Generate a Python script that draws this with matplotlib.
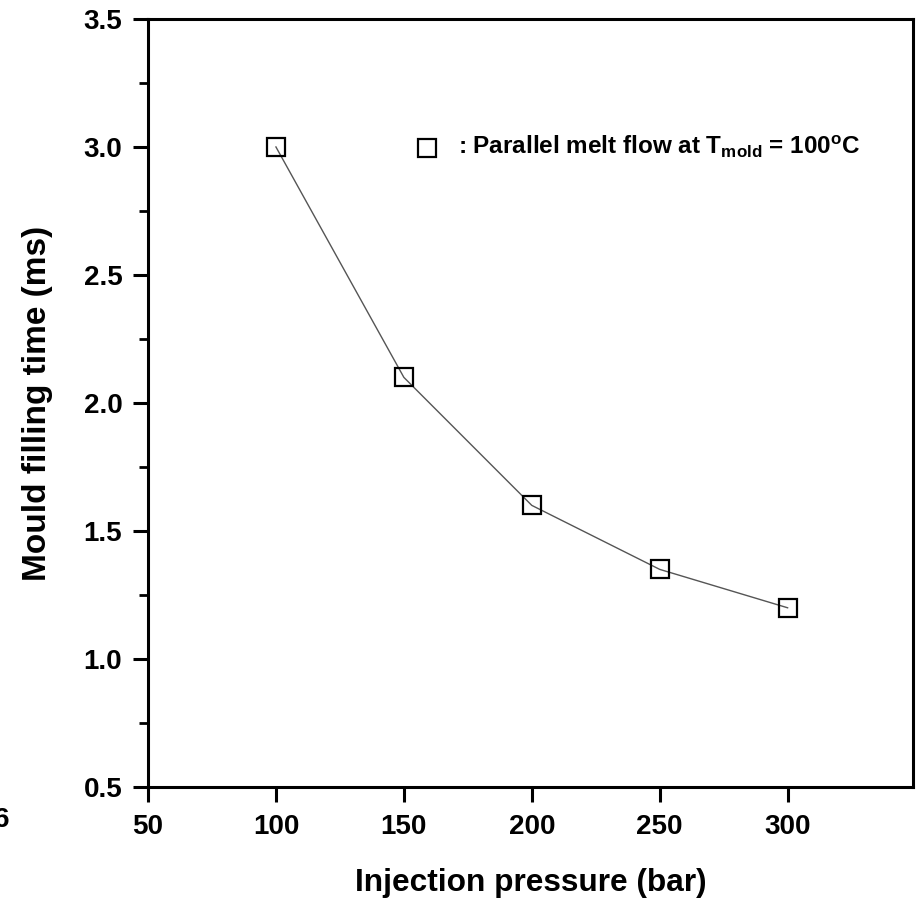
import matplotlib
matplotlib.use("Agg")
from matplotlib import pyplot as plt
from matplotlib.ticker import MultipleLocator

# data
pressure = [100, 150, 200, 250, 300]
fill_time = [3.0, 2.1, 1.6, 1.35, 1.2]
x_ticks = [50, 100, 150, 200, 250, 300]
y_ticks = [0.5, 1.0, 1.5, 2.0, 2.5, 3.0, 3.5]

plt.rcParams['font.family'] = ['Liberation Sans', 'DejaVu Sans']
plt.rcParams['font.weight'] = 'bold'
plt.rcParams['mathtext.fontset'] = 'custom'
plt.rcParams['mathtext.rm'] = 'Liberation Sans:bold'
plt.rcParams['mathtext.it'] = 'Liberation Sans:bold'
plt.rcParams['mathtext.bf'] = 'Liberation Sans:bold'


def main():
    fig = plt.figure(figsize=(9.16, 9.02), dpi=100)
    ax = fig.add_axes([0.1616, 0.1275, 0.8351, 0.8515])

    ax.plot(pressure, fill_time, color='#555555', lw=1.0, marker='s', ms=13,
            mfc='none', mec='black', mew=1.6, zorder=3)

    ax.set_xlim(50, 349)
    ax.set_ylim(0.5, 3.5)
    ax.set_xticks(x_ticks)
    ax.set_yticks(y_ticks)
    ax.yaxis.set_minor_locator(MultipleLocator(0.25))

    for s in ax.spines.values():
        s.set_linewidth(2.2)
    ax.tick_params(axis='both', which='major', direction='out', length=10.5, width=2.2,
                   labelsize=20)
    ax.tick_params(axis='y', which='major', pad=8)
    ax.tick_params(axis='x', which='major', pad=9)
    ax.tick_params(axis='y', which='minor', direction='out', length=6.5, width=2.0)
    ax.set_xlabel("Injection pressure (bar)", fontsize=22.8, fontweight='bold', labelpad=20)
    ax.set_ylabel("Mould filling time (ms)", fontsize=24, fontweight='bold', labelpad=22)

    # legend drawn as in the original: marker plus text
    ax.plot([159], [2.995], marker='s', ms=13, mfc='none', mec='black', mew=1.6,
            linestyle='none', clip_on=False)
    ax.text(171, 3.0, r": Parallel melt flow at $\mathrm{T_{mold}}$ = 100$^\mathrm{o}$C",
            fontsize=17.5, fontweight='bold', va='center', ha='left')

    # stray label cropped from neighbouring panel
    fig.text(-0.007, 0.091, "6", fontsize=20, fontweight='bold', ha='left', va='center')

    fig.savefig("out.png", dpi=100)


if __name__ == '__main__':
    main()
